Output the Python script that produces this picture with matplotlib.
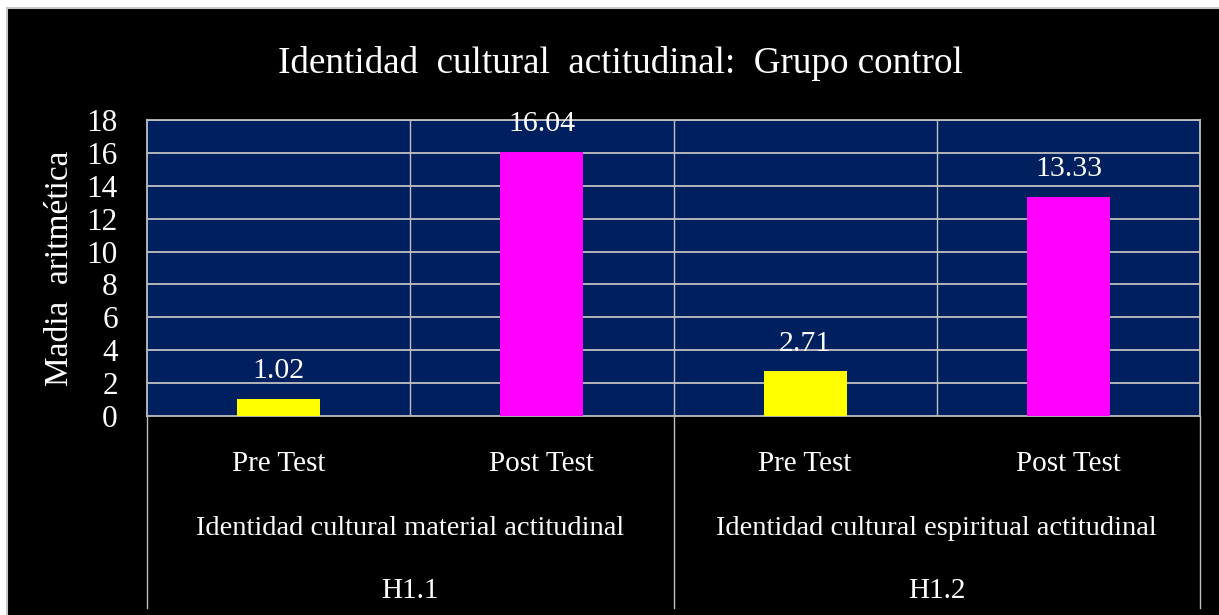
import matplotlib.pyplot as plt
import matplotlib.patches as mpatches
import matplotlib.transforms as mtransforms
import numpy as np

# data
groups = ["H1.1", "H1.2"]
dimensions = ["Identidad cultural material actitudinal",
              "Identidad cultural espiritual actitudinal"]
tests = ["Pre Test", "Post Test"]
pre_test = [1.02, 2.71]
post_test = [16.04, 13.33]
y_ticks = [0, 2, 4, 6, 8, 10, 12, 14, 16, 18]

plt.rcParams['font.family'] = ['Liberation Serif', 'DejaVu Serif']

W, H = 1219, 615
fig = plt.figure(figsize=(W / 100, H / 100), dpi=100, facecolor='white')

# black slide background with light grey frame (only top/left edges visible)
bg = mpatches.Rectangle((7 / W, -0.05), 1.1, 1.05 - 8 / H, transform=fig.transFigure,
                        facecolor='black', edgecolor='#c8c8c8', linewidth=1.5, zorder=-10)
fig.patches.append(bg)

ax = fig.add_axes([147 / W, 199 / H, 1053 / W, 296 / H])
ax.set_facecolor('#001f5f')

# one bar per (group, test); order: pre, post, pre, post
values = []
colors = []
for p, q in zip(pre_test, post_test):
    values += [p, q]
    colors += ['#ffff00', '#ff00ff']
x = np.arange(len(values))
bars = ax.bar(x, values, width=0.315, color=colors, zorder=3)

for xi, v in zip(x, values):
    ax.annotate(f"{v:.2f}", (xi, v), xytext=(0, 15), textcoords='offset points',
                ha='center', va='baseline', color='white', fontsize=21.5,
                zorder=4, annotation_clip=False)

ax.set_xlim(-0.5, len(values) - 0.5)
ax.set_ylim(0, 18)
ax.set_yticks(y_ticks)
ax.set_xticks([])
ax.tick_params(axis='y', length=0, pad=21, labelcolor='white', labelsize=22.5)

# grid lines
for t in y_ticks[1:]:
    ax.axhline(t, color='#c0c0c0', linewidth=1.3, zorder=1)
for b in np.arange(0.5, len(values) - 0.5, 1):
    ax.axvline(b, color='#c0c0c0', linewidth=1.0, zorder=1)
for s in ax.spines.values():
    s.set_color('#c0c0c0')
    s.set_linewidth(1.3)

# multi-level category axis
trans = mtransforms.blended_transform_factory(ax.transData, ax.transAxes)
for gi in range(len(groups)):
    for ti, t in enumerate(tests):
        ax.text(2 * gi + ti, -0.186, t, transform=trans, ha='center', va='baseline',
                color='white', fontsize=21)
    ax.text(2 * gi + 0.5, -0.402, dimensions[gi], transform=trans, ha='center',
            va='baseline', color='white', fontsize=20.5)
    ax.text(2 * gi + 0.5, -0.615, groups[gi], transform=trans, ha='center',
            va='baseline', color='white', fontsize=21)
for b in np.arange(-0.5, len(values), 2):
    ax.plot([b, b], [0, -0.649], transform=trans, color='#c0c0c0',
            linewidth=1.0, clip_on=False)

fig.text(60 / W, (H - 268) / H, "Madia  aritmética", rotation=90, ha='center',
         va='center', color='white', fontsize=24)
fig.text(620 / W, (H - 73) / H, "Identidad  cultural  actitudinal:  Grupo control",
         ha='center', va='baseline', color='white', fontsize=26.7)

fig.savefig('out.png', dpi=100, facecolor=fig.get_facecolor())
